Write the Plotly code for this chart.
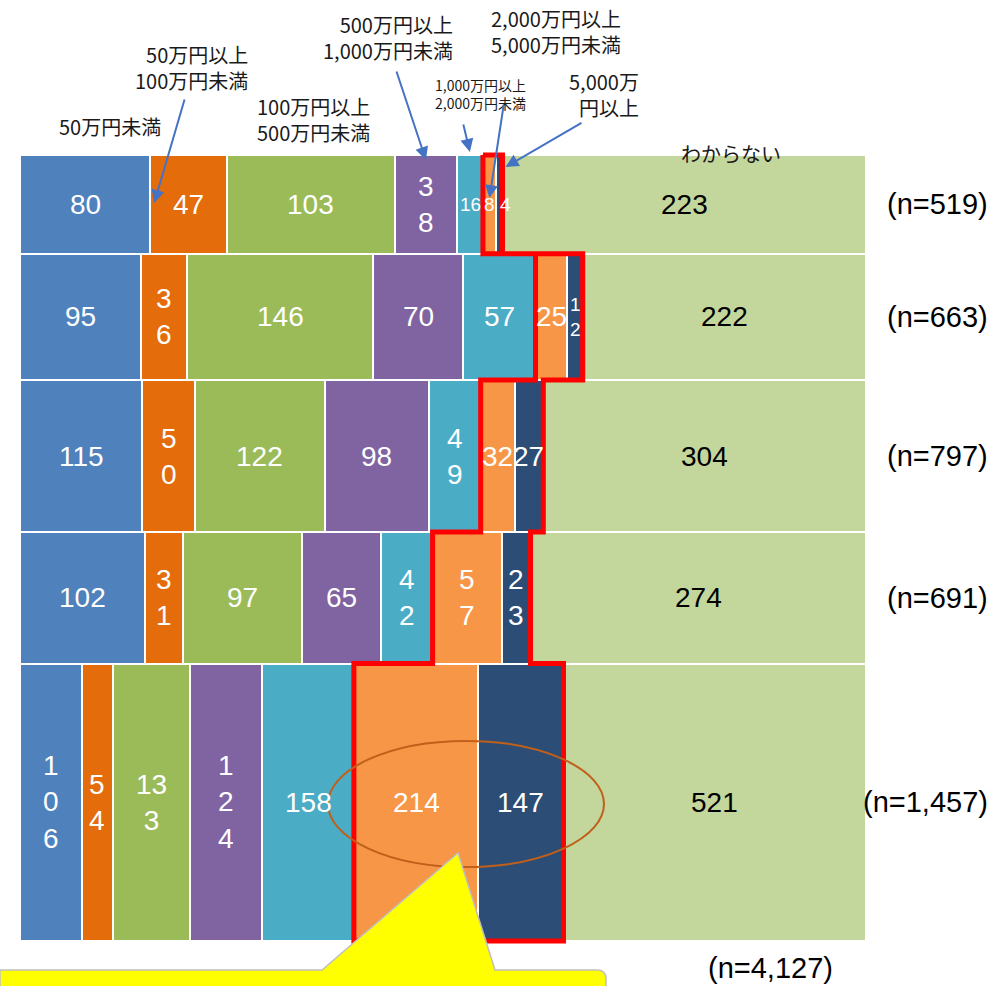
import plotly.graph_objects as go

# ---------------- data ----------------
row_n = [519, 663, 797, 691, 1457]
total_n = 4127

categories = [
    "50万円未満",
    "50万円以上<br>100万円未満",
    "100万円以上<br>500万円未満",
    "500万円以上<br>1,000万円未満",
    "1,000万円以上<br>2,000万円未満",
    "2,000万円以上<br>5,000万円未満",
    "5,000万<br>円以上",
    "わからない",
]
lt_50 = [80, 95, 115, 102, 106]
from_50_to_100 = [47, 36, 50, 31, 54]
from_100_to_500 = [103, 146, 122, 97, 133]
from_500_to_1000 = [38, 70, 98, 65, 124]
from_1000_to_2000 = [16, 57, 49, 42, 158]
from_2000_to_5000 = [8, 25, 32, 57, 214]
over_5000 = [4, 12, 27, 23, 147]
unknown = [223, 222, 304, 274, 521]

series = [lt_50, from_50_to_100, from_100_to_500, from_500_to_1000,
          from_1000_to_2000, from_2000_to_5000, over_5000, unknown]
colors = ["#4F81BD", "#E46C0A", "#9BBB59", "#8064A2",
          "#4BACC6", "#F79646", "#2C4D75", "#C3D69B"]
text_colors = ["white"] * 7 + ["black"]

# how the value labels are broken into lines in narrow cells (row, category) -> chars per line
wrap_rules = {(0, 3): 1, (1, 1): 1, (1, 6): 1, (2, 1): 1, (2, 4): 1,
              (3, 1): 1, (3, 4): 1, (3, 5): 1, (3, 6): 1,
              (4, 0): 1, (4, 1): 1, (4, 2): 2, (4, 3): 1}
small_labels = {(0, 4), (0, 5), (0, 6), (1, 6)}
label_xshift = {(0, 4): 1, (0, 6): 6}

# ---------------- geometry ----------------
W, H = 991, 986
X0, X1, Y0, Y1 = 20, 866, 155, 941
PAD = 10
unit = (Y1 - Y0) / total_n
ml, mr, mt, mb = X0 - PAD, W - X1 - PAD, Y0 - PAD, H - Y1 - PAD
pw, ph = W - ml - mr, H - mt - mb


def px(x):
    return (x - ml) / pw


def py(y):
    return 1 - (y - mt) / ph


row_top = []
acc = 0
for n in row_n:
    row_top.append(acc)
    acc += n
row_mid = [t + n / 2 for t, n in zip(row_top, row_n)]

# cumulative start of every cell, as a share of its row
bases = []
run = [0] * len(row_n)
for vals in series:
    bases.append([run[r] / row_n[r] for r in range(len(row_n))])
    run = [run[r] + vals[r] for r in range(len(row_n))]

fig = go.Figure()

for ci, vals in enumerate(series):
    fig.add_trace(go.Bar(
        orientation="h",
        y=row_mid,
        x=[v / n for v, n in zip(vals, row_n)],
        base=bases[ci],
        width=row_n,
        marker=dict(color=colors[ci], line=dict(color="white", width=2)),
        hoverinfo="skip",
        showlegend=False,
    ))


def fmt(v, chunk):
    s = str(v)
    if not chunk:
        return s
    return "<br>".join(s[i:i + chunk] for i in range(0, len(s), chunk))


annotations = []
for ci, vals in enumerate(series):
    for r, v in enumerate(vals):
        annotations.append(dict(
            xref="x", yref="y",
            x=bases[ci][r] + v / row_n[r] / 2, y=row_mid[r],
            xanchor="center", yanchor="middle",
            xshift=label_xshift.get((r, ci), 0),
            text=fmt(v, wrap_rules.get((r, ci))),
            showarrow=False,
            font=dict(family="Liberation Sans, Arial", size=19 if (r, ci) in small_labels else 28,
                      color=text_colors[ci]),
        ))

# red outline around the two highest bands (2,000万円以上)
left = bases[5]
right = [bases[6][r] + over_5000[r] / row_n[r] for r in range(len(row_n))]
ox, oy = [], []
for r in range(len(row_n)):
    ox += [left[r], left[r]]
    oy += [row_top[r], row_top[r] + row_n[r]]
for r in reversed(range(len(row_n))):
    ox += [right[r], right[r]]
    oy += [row_top[r] + row_n[r], row_top[r]]
ox.append(left[0])
oy.append(row_top[0])
fig.add_trace(go.Scatter(x=ox, y=oy, mode="lines",
                         line=dict(color="#FF0000", width=5),
                         hoverinfo="skip", showlegend=False))

# row sample sizes
for r, n in enumerate(row_n):
    annotations.append(dict(
        xref="paper", yref="y", x=px(990), y=row_mid[r],
        xanchor="right", yanchor="middle", text=f"(n={n:,})", showarrow=False,
        font=dict(family="Liberation Sans, Arial", size=29, color="black"),
    ))
annotations.append(dict(
    xref="paper", yref="paper", x=px(770), y=py(968),
    xanchor="center", yanchor="middle",
    text=f"(n={total_n:,})", showarrow=False,
    font=dict(family="Liberation Sans, Arial", size=29, color="black"),
))

# category headers
jp = "Noto Sans CJK JP"
headers = [
    (categories[0], 110, 126, "center", 20),
    (categories[1], 250, 68, "right", 20),
    (categories[2], 372, 119, "right", 20),
    (categories[3], 455, 37, "right", 20),
    (categories[4], 528, 94, "right", 14),
    (categories[5], 623, 32, "right", 20),
    (categories[6], 641, 95, "right", 20),
    (categories[7], 731, 153, "center", 20),
]
for text, x, y, al, size in headers:
    annotations.append(dict(
        xref="paper", yref="paper", x=px(x), y=py(y),
        xanchor="center" if al == "center" else al, yanchor="middle",
        align=al, text=text, showarrow=False,
        font=dict(family=jp, size=size, color="#1a1a1a"),
    ))


def cell_px(ci, r, frac):
    return X0 + (bases[ci][r] + frac * series[ci][r] / row_n[r]) * (X1 - X0)


arrows = [
    ((185, 98), (cell_px(1, 0, 0.05), 203)),
    ((396, 70), (cell_px(3, 0, 0.5), 160)),
    ((463, 123), (cell_px(4, 0, 0.5), 152)),
    ((504, 103), (cell_px(5, 0, 0.5), 198)),
    ((583, 122), (cell_px(6, 0, 1.0) + 3, 167)),
]
for (tx, ty), (hx, hy) in arrows:
    annotations.append(dict(
        xref="paper", yref="paper", x=px(hx), y=py(hy),
        axref="pixel", ayref="pixel", ax=tx - hx, ay=ty - hy,
        text="", showarrow=True, arrowhead=2, arrowsize=1.3,
        arrowwidth=2, arrowcolor="#4472C4", standoff=0, startstandoff=0,
    ))

shapes = []
# ellipse highlighting the bottom row
shapes.append(dict(type="circle", xref="paper", yref="paper", layer="above",
                   x0=px(328), x1=px(604), y0=py(741), y1=py(867),
                   line=dict(color="#C0601A", width=2)))


def pt(x, y):
    return f"{px(x):.5f},{py(y):.5f}"


callout = ("M " + pt(0, 970) + " L " + pt(322, 970) + " L " + pt(458, 853) +
           " L " + pt(495, 970) + " L " + pt(597, 970) +
           " Q " + pt(606, 970) + " " + pt(606, 979) +
           " L " + pt(606, 1000) + " L " + pt(0, 1000) + " Z")
shapes.append(dict(type="path", xref="paper", yref="paper", layer="above",
                   path=callout, fillcolor="#FFFF00",
                   line=dict(color="#BFBFBF", width=1.5)))

fig.update_layout(
    width=W, height=H,
    margin=dict(l=ml, r=mr, t=mt, b=mb),
    paper_bgcolor="white", plot_bgcolor="white",
    barmode="overlay", bargap=0,
    showlegend=False,
    xaxis=dict(range=[-PAD / (X1 - X0), 1 + PAD / (X1 - X0)], visible=False, fixedrange=True),
    yaxis=dict(range=[total_n + PAD / unit, -PAD / unit], visible=False, fixedrange=True),
    annotations=annotations,
    shapes=shapes,
)

fig.write_html("out.html")
